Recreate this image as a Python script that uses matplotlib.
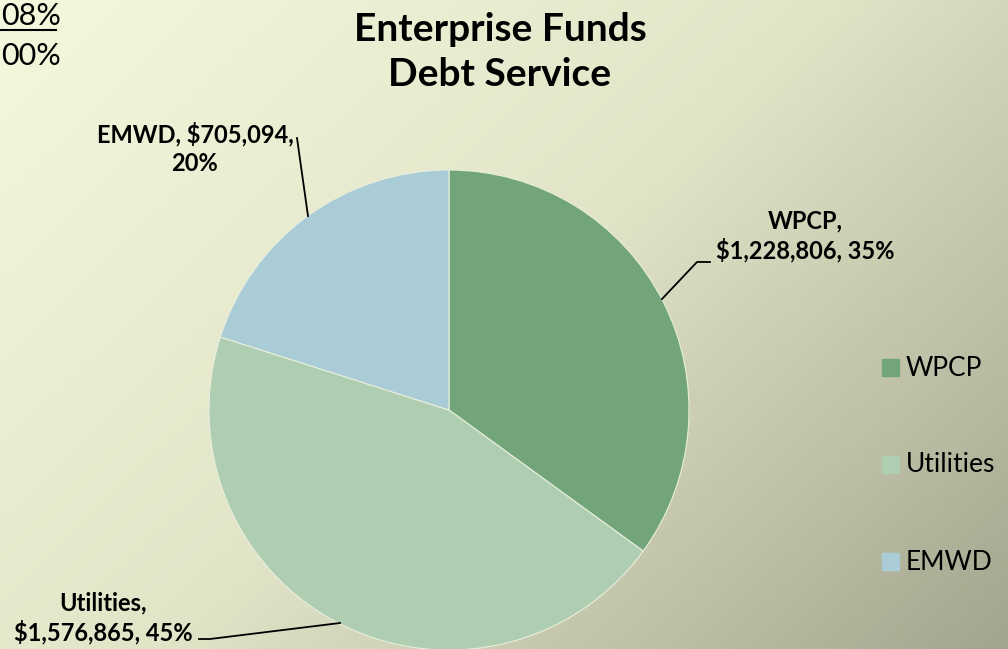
import matplotlib.pyplot as plt
import numpy as np
from matplotlib.colors import LinearSegmentedColormap
from matplotlib.lines import Line2D

# data
categories = ['WPCP', 'Utilities', 'EMWD']
amounts = [1228806, 1576865, 705094]
percents = [35, 45, 20]
colors = ['#72a57a', '#afcdb0', '#a9ccd6']

W, H = 1008, 649
fig = plt.figure(figsize=(W / 100, H / 100), dpi=100)
plt.rcParams['font.family'] = ['Lato', 'DejaVu Sans']


def px(x, y):
    return x / W, 1 - y / H


# background gradient, light top-left to olive grey bottom-right
bg = fig.add_axes([0, 0, 1, 1])
yy, xx = np.mgrid[0:1:200j, 0:1:300j]
g = (xx * 0.6 + yy * 0.4)
cmap = LinearSegmentedColormap.from_list('bg', ['#f6f8de', '#e2e4c8', '#a3a58e'])
bg.imshow(g, cmap=cmap, aspect='auto', extent=[0, 1, 0, 1], origin='upper')
bg.axis('off')

# pie
cx, cy, r = 449, 410, 240
ax = fig.add_axes([(cx - r) / W, (H - cy - r) / H, 2 * r / W, 2 * r / H])
wedges, _ = ax.pie(amounts, colors=colors, startangle=90, counterclock=False,
                   radius=1, wedgeprops=dict(edgecolor='#e8eedc', linewidth=0.8))
ax.set_xlim(-1, 1)
ax.set_ylim(-1, 1)
ax.set_aspect('equal')
ax.axis('off')

lw = 1.3
lab = dict(ha='center', va='center', fontsize=17, fontweight='bold', linespacing=1.3)
# WPCP label
fig.text(*px(805, 236), 'WPCP,\n$1,228,806, 35%', **lab)
fig.add_artist(Line2D(*zip(px(662, 299), px(697, 262), px(710, 262)),
                      transform=fig.transFigure, color='black', lw=lw))
# Utilities label
fig.text(*px(103, 618), 'Utilities,\n$1,576,865, 45%', **lab)
fig.add_artist(Line2D(*zip(px(199, 639), px(210, 639), px(340, 623)),
                      transform=fig.transFigure, color='black', lw=lw))
# EMWD label
fig.text(*px(195, 148), 'EMWD, $705,094,\n20%', **lab)
fig.add_artist(Line2D(*zip(px(297, 138), px(308, 216)),
                      transform=fig.transFigure, color='black', lw=lw))

# title
fig.text(*px(500, 52), 'Enterprise Funds\nDebt Service', ha='center', va='center',
         fontsize=28, fontweight='bold', linespacing=1.35)

# legend
for i, (c, col) in enumerate(zip(categories, colors)):
    y = 368 + i * 97
    fig.add_artist(plt.Rectangle(px(882, y + 8), 17 / W, 17 / H, color=col,
                                 transform=fig.transFigure))
    fig.text(*px(906, y), c, ha='left', va='center', fontsize=19)

# remnants of another chart at top left
fig.text(*px(1, 16), '08%', ha='left', va='center', fontsize=22)
fig.add_artist(Line2D(*zip(px(0, 30), px(56, 30)), transform=fig.transFigure,
                      color='black', lw=1.5))
fig.text(*px(1, 56), '00%', ha='left', va='center', fontsize=22)

fig.savefig('out.png', dpi=100)
